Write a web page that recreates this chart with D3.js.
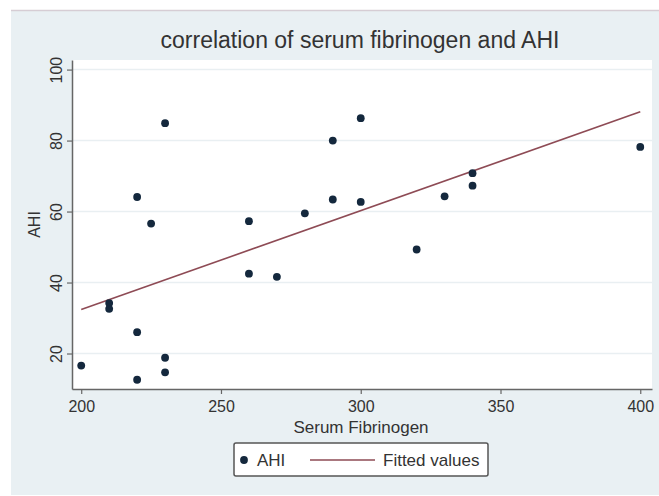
<!DOCTYPE html>
<html>
<head>
<meta charset="utf-8">
<script src="https://cdn.jsdelivr.net/npm/d3@7"></script>
<style>
  body { margin: 0; background: #fff; }
  text { font-family: "Liberation Sans", Arial, sans-serif; fill: #333; }
</style>
</head>
<body>
<svg id="chart" width="659" height="496"></svg>
<script>
// data
const fibrinogen = [200, 210, 210, 220, 220, 220, 225, 230, 230, 230, 260, 260, 270, 280, 290, 290, 300, 300, 320, 330, 340, 340, 400]
const ahi        = [16.6, 34.2, 32.6, 64.1, 26.0, 12.6, 56.6, 84.9, 18.8, 14.7, 57.3, 42.5, 41.6, 59.5, 80.0, 63.4, 86.3, 62.7, 49.3, 64.3, 70.8, 67.3, 78.2]
const fitX = [200, 400]   // fitted line end points
const fitY = [32.4, 88.1]
const xTicks = [200, 250, 300, 350, 400]
const yTicks = [20, 40, 60, 80, 100]

const svg = d3.select('#chart')

// outer graph region (stata-ish light blue)
svg.append('rect').attr('x', 11).attr('y', 11).attr('width', 648).attr('height', 484).attr('fill', '#e9f0f3')
svg.append('line').attr('x1', 11).attr('x2', 659).attr('y1', 10.5).attr('y2', 10.5)
    .attr('stroke', '#d6cdd4').attr('stroke-width', 1.5)

const pLeft = 72, pRight = 652, pTop = 60, pBottom = 389

const x = d3.scaleLinear().domain([196.7, 404.2]).range([pLeft, pRight])
const y = d3.scaleLinear().domain([10, 102.7]).range([pBottom, pTop])

// plot region
svg.append('rect').attr('x', pLeft).attr('y', pTop).attr('width', pRight - pLeft).attr('height', pBottom - pTop)
    .attr('fill', '#fff')

// grid lines
svg.append('g')
    .selectAll('line')
    .data(yTicks)
    .join('line')
    .attr('x1', pLeft).attr('x2', pRight)
    .attr('y1', d => y(d)).attr('y2', d => y(d))
    .attr('stroke', '#e9eff2').attr('stroke-width', 1.5)

// x axis
const xAxis = svg.append('g')
    .attr('transform', `translate(0,${pBottom})`)
    .call(d3.axisBottom(x).tickValues(xTicks).tickSize(5).tickPadding(7).tickSizeOuter(0))
xAxis.select('.domain').attr('stroke', '#666').attr('stroke-width', 1.5)
xAxis.selectAll('.tick line').attr('stroke', '#666').attr('stroke-width', 1.2)
xAxis.selectAll('.tick text').attr('font-size', 16).attr('fill', '#333')
    .style('font-family', '"Liberation Sans", Arial, sans-serif')

// y axis, labels turned vertical like stata
const yAxis = svg.append('g')
    .attr('transform', `translate(${pLeft},0)`)
    .call(d3.axisLeft(y).tickValues(yTicks).tickSize(5).tickSizeOuter(0))
yAxis.select('.domain').attr('stroke', '#666').attr('stroke-width', 1.5)
yAxis.selectAll('.tick line').attr('stroke', '#666').attr('stroke-width', 1.2)
yAxis.selectAll('.tick text')
    .attr('x', 0).attr('dy', 0)
    .attr('text-anchor', 'middle')
    .attr('transform', 'translate(-10,0) rotate(-90)')
    .attr('font-size', 16).attr('fill', '#333')
    .style('font-family', '"Liberation Sans", Arial, sans-serif')

// fitted line
svg.append('path')
    .datum(d3.zip(fitX, fitY))
    .attr('fill', 'none')
    .attr('stroke', '#8e4b55')
    .attr('stroke-width', 1.6)
    .attr('d', d3.line().x(d => x(d[0])).y(d => y(d[1])))

// points
svg.append('g')
    .selectAll('circle')
    .data(d3.zip(fibrinogen, ahi))
    .join('circle')
    .attr('cx', d => x(d[0]))
    .attr('cy', d => y(d[1]))
    .attr('r', 3.9)
    .attr('fill', '#14283d')

// titles
svg.append('text').attr('x', 360).attr('y', 48).attr('text-anchor', 'middle')
    .attr('font-size', 23).text('correlation of serum fibrinogen and AHI')
svg.append('text').attr('x', 361).attr('y', 433).attr('text-anchor', 'middle')
    .attr('font-size', 17).text('Serum Fibrinogen')
svg.append('text').attr('transform', `translate(40,${(pTop + pBottom) / 2}) rotate(-90)`)
    .attr('text-anchor', 'middle').attr('font-size', 16).text('AHI')

// legend
const lg = svg.append('g')
lg.append('rect').attr('x', 234).attr('y', 443).attr('width', 254).attr('height', 33).attr('rx', 2)
    .attr('fill', '#fff').attr('stroke', '#555').attr('stroke-width', 1.5)
lg.append('circle').attr('cx', 244).attr('cy', 460).attr('r', 3.9).attr('fill', '#14283d')
lg.append('text').attr('x', 257).attr('y', 466).attr('font-size', 17).text('AHI')
lg.append('line').attr('x1', 310).attr('x2', 375).attr('y1', 460).attr('y2', 460)
    .attr('stroke', '#8e4b55').attr('stroke-width', 1.6)
lg.append('text').attr('x', 383).attr('y', 466).attr('font-size', 17).text('Fitted values')
</script>
</body>
</html>
